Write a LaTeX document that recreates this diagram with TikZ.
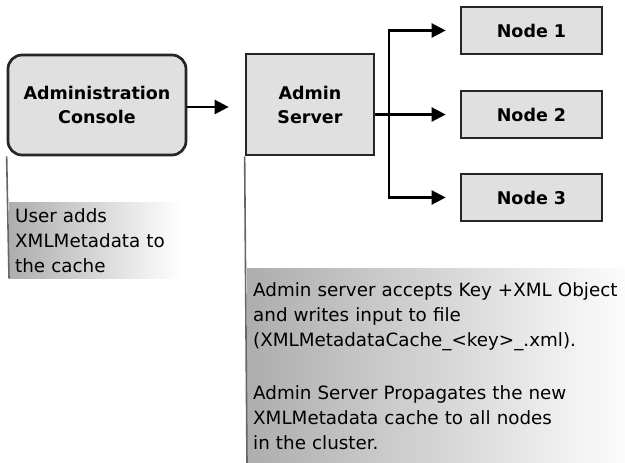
\documentclass[tikz,border=0pt]{standalone}
\usepackage{fontspec}
\setmainfont{DejaVu Sans}
\usetikzlibrary{arrows.meta,positioning}
\tikzset{box/.style={draw=black!85,fill=black!12,line width=2.7pt,align=center,inner sep=0pt,font=\bfseries\fontsize{17.5}{24}\selectfont},
 rbox/.style={box,rounded corners=14pt},
 flow/.style={-{Triangle[length=14pt,width=14pt]},line width=2.5pt},
 wire/.style={draw=black!60,line width=1.6pt},
 note/.style={anchor=north west,align=left,inner xsep=6pt,inner ysep=0pt,left color=black!32,middle color=white,right color=white,font=\fontsize{18.3}{25}\selectfont}}

\begin{document}
\begin{tikzpicture}[x=1pt,y=-1pt]
\useasboundingbox(0,0)rectangle(625,463);
\node[rbox,minimum width=178pt,minimum height=100pt](con) at(97,105){Administration\\Console};
\node[box,minimum width=128pt,minimum height=101pt](srv) at(310,104.5){Admin\\Server};
\foreach \i/\y in {1/30.5,2/114.5,3/197.5}{\node[box,minimum width=141pt,minimum height=47pt](n\i) at(531.5,\y){Node \i};}
\coordinate(fork) at(389,0);
% notes under the boxes
\node[note,text width=160pt,minimum height=76pt](note1) at(9,202){User adds\\XMLMetadata to\\the cache};
\node[note,text width=380pt,minimum height=195pt](note2) at(247,268){Admin server accepts Key +XML Object\\and writes input to file\\(XMLMetadataCache\_<key>\_.xml).\\[28pt]Admin Server Propagates the new\\XMLMetadata cache to all nodes\\in the cluster.};
\draw[wire](con.south west)--(note1.south west);
\draw[wire](srv.south west)--(note2.south west);
% arrows
\draw[flow,shorten >=16pt]([yshift=-2pt]con.east)--([yshift=-2pt]con.east-|srv.west);
\draw[flow,shorten >=14pt](srv.east|-n2.west)--(n2.west);
\draw[flow,shorten >=14pt](fork|-n2.west)|-(n1.west);
\draw[flow,shorten >=14pt](fork|-n2.west)|-(n3.west);
\end{tikzpicture}
\end{document}
